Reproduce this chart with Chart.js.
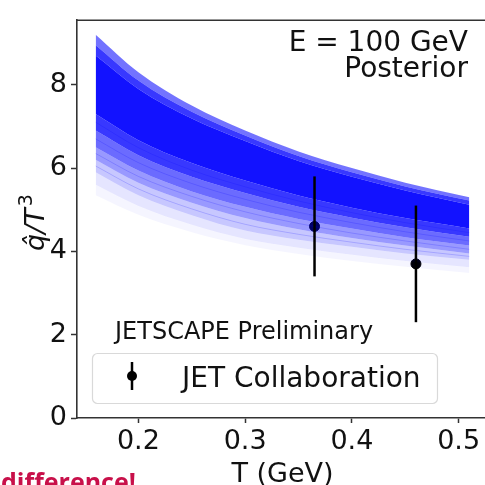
<!DOCTYPE html>
<html>
<head>
<meta charset="utf-8">
<script src="https://cdn.jsdelivr.net/npm/chart.js@4/dist/chart.umd.min.js"></script>
<style>
  body { margin: 0; background: #fff; overflow: hidden; }
  #wrap { position: relative; width: 485px; height: 485px; overflow: hidden; }
  #note {
    position: absolute; left: 1px; top: 469px;
    font: bold 25px "Open Sans", sans-serif; color: #c8104a; line-height: 1;
  }
</style>
</head>
<body>
<div id="wrap">
  <canvas id="chart" width="500" height="485"></canvas>
  <div id="note">difference!</div>
</div>
<script>
// temperatures (GeV) where the posterior curves are read
const tempGrid = [0.16, 0.20, 0.25, 0.30, 0.35, 0.40, 0.45, 0.51];

// posterior band, read as level curves from top edge down to faint bottom
const postTop = [9.2, 8.3, 7.5, 6.9, 6.4, 6.0, 5.65, 5.3];
const postA = [8.95, 8.10, 7.35, 6.78, 6.29, 5.90, 5.56, 5.22];
const postB = [8.7, 7.90, 7.19, 6.65, 6.17, 5.79, 5.46, 5.12];
const postC = [7.3, 6.67, 6.12, 5.7, 5.34, 5.05, 4.80, 4.55];
const postD = [6.9, 6.31, 5.79, 5.4, 5.07, 4.81, 4.58, 4.35];
const postE = [6.5, 5.94, 5.44, 5.07, 4.78, 4.55, 4.34, 4.14];
const postF = [6.2, 5.65, 5.17, 4.8, 4.53, 4.32, 4.14, 3.95];
const postG = [5.9, 5.35, 4.87, 4.5, 4.28, 4.11, 3.95, 3.8];
const postH = [5.6, 5.09, 4.64, 4.3, 4.09, 3.92, 3.77, 3.62];
const postI = [5.35, 4.88, 4.46, 4.15, 3.94, 3.77, 3.63, 3.48];

// single posterior samples that show up as streaks
const streakCore1 = [8.3, 7.54, 6.86, 6.36, 5.92, 5.57, 5.27, 4.97];
const streakCore2 = [7.75, 7.06, 6.45, 6.0, 5.6, 5.29, 5.02, 4.74];
const streak1 = [7.1, 6.49, 5.95, 5.55, 5.21, 4.93, 4.69, 4.45];
const streak2 = [6.7, 6.13, 5.63, 5.25, 4.94, 4.69, 4.47, 4.25];
const streak3 = [6.35, 5.80, 5.32, 4.95, 4.67, 4.44, 4.25, 4.05];
const streak4 = [6.05, 5.50, 5.02, 4.65, 4.41, 4.22, 4.05, 3.88];

// JET collaboration points
const jetT = [0.365, 0.46];
const jetQ = [4.6, 3.7];
const jetErr = [1.2, 1.4];

const xTicks = [0.2, 0.3, 0.4, 0.5];
const yTicks = [0, 2, 4, 6, 8];

const curves = [postTop, postA, postB, postC, postD, postE, postF, postG, postH, postI];
// opacity of the strip between a curve and the one above it
const stripAlpha = [0, 0.55, 0.78, 0.93, 0.78, 0.58, 0.4, 0.22, 0.1, 0.04];

const FONT = '"DejaVu Sans", sans-serif';

function toPoints(vals) {
  return tempGrid.map((t, j) => ({ x: t, y: vals[j] }));
}

function streakLine(vals, color) {
  return {
    type: "line",
    data: toPoints(vals),
    borderColor: color,
    borderWidth: 1,
    pointRadius: 0,
    cubicInterpolationMode: "monotone",
    fill: false,
  };
}

let datasets = curves.map((vals, i) => ({
  type: "line",
  data: toPoints(vals),
  borderColor: "rgba(0,0,255,0)",
  borderWidth: 0,
  pointRadius: 0,
  cubicInterpolationMode: "monotone",
  fill: i === 0 ? false : "-1",
  backgroundColor: `rgba(0,0,255,${stripAlpha[i]})`,
}));

[streakCore1, streakCore2].forEach((s) => datasets.push(streakLine(s, "rgba(255,255,255,0.16)")));
[streak1, streak2, streak3, streak4].forEach((s) => datasets.push(streakLine(s, "rgba(0,0,255,0.18)")));

datasets.push({
  type: "scatter",
  data: jetT.map((t, i) => ({ x: t, y: jetQ[i] })),
  pointRadius: 5,
  pointBackgroundColor: "#000",
  pointBorderColor: "#000",
});

const extras = {
  id: "extras",
  afterDatasetsDraw(chart) {
    const ctx = chart.ctx;
    const xs = chart.scales.x, ys = chart.scales.y;
    ctx.save();
    ctx.strokeStyle = "#000";
    ctx.lineWidth = 2.5;
    jetT.forEach((t, i) => {
      let px = xs.getPixelForValue(t);
      ctx.beginPath();
      ctx.moveTo(px, ys.getPixelForValue(jetQ[i] + jetErr[i]));
      ctx.lineTo(px, ys.getPixelForValue(jetQ[i] - jetErr[i]));
      ctx.stroke();
    });
    ctx.restore();
  },
  afterDraw(chart) {
    const ctx = chart.ctx;
    const a = chart.chartArea;
    ctx.save();
    // top and right spines
    ctx.strokeStyle = "#333";
    ctx.lineWidth = 1.6;
    ctx.beginPath();
    ctx.moveTo(a.left, a.top);
    ctx.lineTo(a.right, a.top);
    ctx.lineTo(a.right, a.bottom);
    ctx.stroke();

    ctx.fillStyle = "#111";
    ctx.font = `28px ${FONT}`;
    ctx.textAlign = "right";
    ctx.textBaseline = "alphabetic";
    ctx.fillText("E = 100 GeV", 468, 51);
    ctx.fillText("Posterior", 468, 77);

    ctx.textAlign = "left";
    ctx.font = `24px ${FONT}`;
    ctx.fillText("JETSCAPE Preliminary", 115, 339);

    // legend box
    ctx.beginPath();
    ctx.roundRect(92.5, 353.5, 345, 50, 5);
    ctx.fillStyle = "rgba(255,255,255,0.8)";
    ctx.fill();
    ctx.strokeStyle = "#d9d9d9";
    ctx.lineWidth = 1.2;
    ctx.stroke();
    ctx.strokeStyle = "#000";
    ctx.lineWidth = 2.5;
    ctx.beginPath();
    ctx.moveTo(132, 362);
    ctx.lineTo(132, 390);
    ctx.stroke();
    ctx.fillStyle = "#000";
    ctx.beginPath();
    ctx.arc(132, 376, 5, 0, Math.PI * 2);
    ctx.fill();
    ctx.fillStyle = "#111";
    ctx.font = `28px ${FONT}`;
    ctx.fillText("JET Collaboration", 182, 387);

    // y axis title  q̂/T^3
    ctx.translate(44, 251);
    ctx.rotate(-Math.PI / 2);
    ctx.font = `italic 27px ${FONT}`;
    ctx.fillText("q\u0302/T", 0, 0);
    let w = ctx.measureText("q\u0302/T").width;
    ctx.font = `19px ${FONT}`;
    ctx.fillText("3", w + 2, -12);
    ctx.restore();

    ctx.save();
    ctx.fillStyle = "#111";
    ctx.font = `27px ${FONT}`;
    ctx.textAlign = "center";
    ctx.fillText("T (GeV)", (a.left + a.right) / 2, 482);
    ctx.restore();
  },
};

new Chart(document.getElementById("chart"), {
  data: { datasets: datasets },
  options: {
    responsive: false,
    animation: false,
    devicePixelRatio: 1,
    layout: { padding: { left: 0, top: 7, right: 12, bottom: 0 } },
    plugins: { legend: { display: false }, tooltip: { enabled: false } },
    scales: {
      x: {
        type: "linear",
        min: 0.1425,
        max: 0.5275,
        afterFit: (s) => { s.height = 67; },
        afterBuildTicks: (s) => { s.ticks = xTicks.map((v) => ({ value: v })); },
        grid: { drawOnChartArea: false, drawTicks: true, tickLength: 5, tickColor: "#333", tickWidth: 1.5 },
        border: { display: true, color: "#333", width: 1.6 },
        ticks: { color: "#111", font: { family: FONT, size: 27 }, padding: 3, maxRotation: 0, callback: (v) => v.toFixed(1) },
      },
      y: {
        type: "linear",
        min: 0,
        max: 9.55,
        afterFit: (s) => { s.width = 77; },
        afterBuildTicks: (s) => { s.ticks = yTicks.map((v) => ({ value: v })); },
        grid: { drawOnChartArea: false, drawTicks: true, tickLength: 6, tickColor: "#333", tickWidth: 1.5 },
        border: { display: true, color: "#333", width: 1.6 },
        ticks: { color: "#111", font: { family: FONT, size: 27 }, padding: 4, callback: (v) => String(v) },
      },
    },
  },
  plugins: [extras],
});
</script>
</body>
</html>
